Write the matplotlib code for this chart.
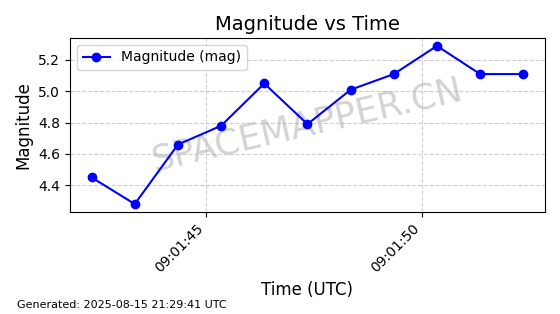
import datetime as dt
import matplotlib
matplotlib.use("Agg")
import matplotlib.pyplot as plt
import matplotlib.dates as mdates

# data
t0 = dt.datetime(2025, 8, 15, 9, 1, 42, 350000)
offsets_s = [0, 1, 2, 3, 4, 5, 6, 7, 8, 9, 10]
magnitude = [4.45, 4.28, 4.66, 4.78, 5.05, 4.79, 5.01, 5.11, 5.29, 5.11, 5.11]
times = [t0 + dt.timedelta(seconds=s) for s in offsets_s]

fig, ax = plt.subplots(figsize=(5.6, 3.14), dpi=100)
fig.subplots_adjust(left=0.125, right=0.973, top=0.879, bottom=0.325)

ax.plot(times, magnitude, 'o-', color='blue', label='Magnitude (mag)')
ax.set_title('Magnitude vs Time', fontsize=14)
ax.set_xlabel('Time (UTC)', fontsize=12)
ax.set_ylabel('Magnitude', fontsize=12)
ax.grid(True, linestyle='--', alpha=0.6)
ax.legend(loc='upper left')

ax.xaxis.set_major_locator(mdates.SecondLocator(bysecond=range(0, 60, 5)))
ax.xaxis.set_major_formatter(mdates.DateFormatter('%H:%M:%S'))
plt.setp(ax.get_xticklabels(), rotation=45, ha='right')

# watermark
ax.text(0.5, 0.5, 'SPACEMAPPER.CN', transform=ax.transAxes, fontsize=25.5,
        color='gray', alpha=0.35, rotation=13, ha='center', va='center', zorder=0)

fig.text(0.03, 0.02, 'Generated: 2025-08-15 21:29:41 UTC', fontsize=8)

fig.savefig('out.png')
